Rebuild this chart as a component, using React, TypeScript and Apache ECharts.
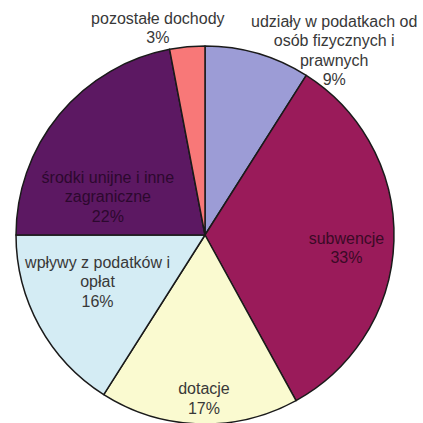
import React, { useEffect, useRef } from "react";
import * as echarts from "echarts";

const categories = [
  "udziały w podatkach od\nosób fizycznych i\nprawnych",
  "subwencje",
  "dotacje",
  "wpływy z podatków i\nopłat",
  "środki unijne i inne\nzagraniczne",
  "pozostałe dochody",
];
const values = [9, 33, 17, 16, 22, 3];
const colors = ["#9c9cd6", "#9a1b5a", "#fafad0", "#d4ecf4", "#5c1862", "#f87878"];
const textColors = ["#383838", "#3a0a26", "#383838", "#383838", "#2c082e", "#383838"];
const labelOffsets: [number, number][] = [
  [102, -91],
  [44, 10],
  [2, 66],
  [-22, 0],
  [-22, 24],
  [-38, -110],
];

export default function App() {
  const ref = useRef<HTMLDivElement>(null);
  useEffect(() => {
    if (!ref.current) return;
    const chart = echarts.init(ref.current, undefined, { renderer: "svg" });
    chart.setOption({
      animation: false,
      backgroundColor: "#ffffff",
      series: [
        {
          type: "pie",
          center: [205, 235],
          radius: [0, 189],
          startAngle: 90,
          clockwise: true,
          avoidLabelOverlap: false,
          labelLine: { show: false },
          itemStyle: { borderColor: "#1a1a1a", borderWidth: 1.5 },
          emphasis: { disabled: true },
          data: categories.map((name, i) => ({
            name,
            value: values[i],
            itemStyle: { color: colors[i] },
            label: {
              show: true,
              position: "inside",
              formatter: "{b}\n{d}%",
              fontFamily: "Liberation Sans, Arial, sans-serif",
              fontSize: 16,
              lineHeight: 19.5,
              color: textColors[i],
              align: "center",
              offset: labelOffsets[i],
            },
          })),
        },
      ],
    });
    return () => chart.dispose();
  }, []);
  return (
    <div
      ref={ref}
      style={{ position: "absolute", left: 0, top: 0, width: 423, height: 423 }}
    />
  );
}
